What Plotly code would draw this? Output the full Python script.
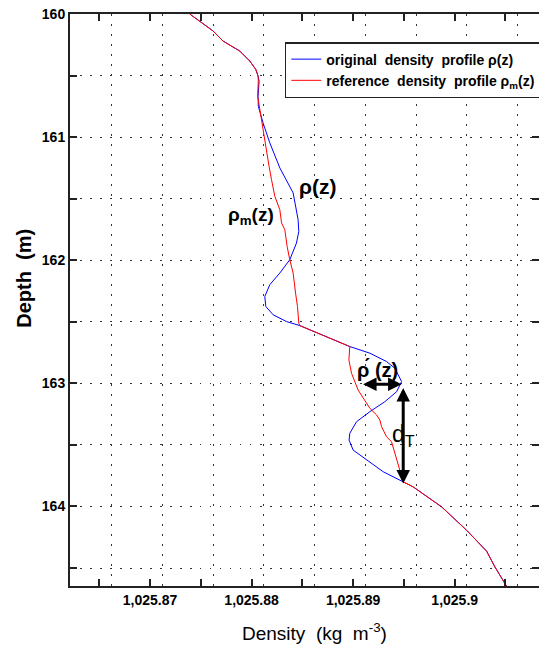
import plotly.graph_objects as go

# ---------------- data ----------------
# original density profile rho(z)
rho_depth = [160.0, 160.138, 160.220, 160.301, 160.382, 160.450, 160.504, 160.545, 160.667, 160.749,
             160.884, 161.046, 161.250, 161.453, 161.670, 161.766, 161.860, 161.996, 162.104, 162.199,
             162.295, 162.376, 162.443, 162.498, 162.531, 162.633, 162.701, 162.755, 162.823, 162.877,
             162.986, 163.068, 163.149, 163.230, 163.312, 163.406, 163.461, 163.542, 163.623, 163.718,
             163.800, 163.841, 164.003, 164.193, 164.363, 164.491, 164.648]
rho_dens = [1025.87391, 1025.87621, 1025.87719, 1025.87884, 1025.87982, 1025.88041, 1025.88064, 1025.88074,
            1025.88064, 1025.88066, 1025.88113, 1025.88179, 1025.88278, 1025.88409, 1025.88458, 1025.88465,
            1025.88442, 1025.88376, 1025.88278, 1025.88179, 1025.88130, 1025.88140, 1025.88212, 1025.88344,
            1025.88475, 1025.88770, 1025.88967, 1025.89165, 1025.89329, 1025.89411, 1025.89477, 1025.89428,
            1025.89312, 1025.89165, 1025.89033, 1025.88967, 1025.88960, 1025.89000, 1025.89132, 1025.89296,
            1025.89493, 1025.89591, 1025.89871, 1025.90117, 1025.90314, 1025.90396, 1025.90511]

# reference (sorted) density profile rho_m(z)
rhom_depth = [160.0, 160.138, 160.220, 160.301, 160.382, 160.450, 160.504, 160.545, 160.667, 160.775,
              160.965, 161.128, 161.237, 161.345, 161.481, 161.589, 161.697, 161.752, 161.888, 161.996,
              162.104, 162.267, 162.376, 162.511, 162.531, 162.633, 162.701, 162.810, 162.918, 163.054,
              163.203, 163.257, 163.298, 163.352, 163.434, 163.474, 163.569, 163.678, 163.772, 163.800,
              163.841, 164.003, 164.193, 164.363, 164.491, 164.648]
rhom_dens = [1025.87391, 1025.87621, 1025.87719, 1025.87884, 1025.87982, 1025.88041, 1025.88064, 1025.88066,
             1025.88060, 1025.88081, 1025.88113, 1025.88147, 1025.88172, 1025.88196, 1025.88229, 1025.88278,
             1025.88295, 1025.88327, 1025.88350, 1025.88376, 1025.88409, 1025.88433, 1025.88452, 1025.88465,
             1025.88475, 1025.88770, 1025.88967, 1025.88958, 1025.88984, 1025.89049, 1025.89165, 1025.89231,
             1025.89263, 1025.89280, 1025.89329, 1025.89378, 1025.89411, 1025.89443, 1025.89477, 1025.89493,
             1025.89591, 1025.89871, 1025.90117, 1025.90314, 1025.90396, 1025.90511]

x_tick_vals = [1025.865, 1025.87, 1025.875, 1025.88, 1025.885, 1025.89, 1025.895, 1025.90, 1025.905]
x_tick_text = ["", "1,025.87", "", "1,025.88", "", "1,025.89", "", "1,025.9", ""]
x_grid_vals = [1025.8662, 1025.8712, 1025.8762, 1025.8812, 1025.8862, 1025.8912, 1025.8962, 1025.9012, 1025.9062]
y_tick_vals = [160, 160.5, 161, 161.5, 162, 162.5, 163, 163.5, 164, 164.5]
y_tick_text = ["160", "", "161", "", "162", "", "163", "", "164", ""]

# annotation anchors (data coordinates)
label_rho = (1025.88652, 161.40)
label_rhom = (1025.87999, 161.644)
label_rhop = (1025.89243, 162.891)
label_dT = (1025.89500, 163.42)
arrow_rhop = (1025.89083, 1025.89477, 163.007)   # x0, x1, depth
arrow_dT = (1025.89493, 163.025, 163.813)        # x, depth0, depth1

FONT = "Liberation Sans, Arial, sans-serif"

fig = go.Figure()
fig.add_trace(go.Scatter(x=rho_dens, y=rho_depth, mode="lines",
                         line=dict(color="#0000ff", width=1),
                         name="<b>original\u00a0\u00a0density\u00a0\u00a0profile ρ(z)</b>"))
fig.add_trace(go.Scatter(x=rhom_dens, y=rhom_depth, mode="lines",
                         line=dict(color="#ff0000", width=1),
                         name="<b>reference\u00a0\u00a0density\u00a0\u00a0profile ρ<sub>m</sub>(z)</b>"))
# invisible trace to host the offset vertical grid axis
fig.add_trace(go.Scatter(x=[x_grid_vals[0]], y=[160], xaxis="x2", mode="markers",
                         marker=dict(opacity=0), showlegend=False, hoverinfo="skip"))

xr = [1025.86212, 1025.90830]
fig.update_layout(
    width=539, height=646,
    margin=dict(l=70, r=0, t=14, b=60, autoexpand=False),
    paper_bgcolor="white", plot_bgcolor="white",
    font=dict(family=FONT, color="black"),
    xaxis=dict(range=xr, tickvals=x_tick_vals, ticktext=x_tick_text, ticks="inside",
               ticklen=7, tickwidth=1.5, tickcolor="#222", showgrid=False, zeroline=False,
               showline=True, linecolor="#222", linewidth=2, mirror="ticks",
               tickfont=dict(size=14, family=FONT, weight="bold")),
    xaxis2=dict(range=xr, overlaying="x", side="bottom", tickvals=x_grid_vals,
                showticklabels=False, ticks="", showgrid=True, gridcolor="#333",
                griddash="1.5px,8.5px", gridwidth=1, zeroline=False, showline=False),
    yaxis=dict(range=[164.646, 160], tickvals=y_tick_vals, ticktext=y_tick_text, ticks="inside",
               ticklen=7, tickwidth=1.5, tickcolor="#222", showgrid=True, gridcolor="#333",
               griddash="1.5px,8.5px", gridwidth=1, zeroline=False,
               showline=True, linecolor="#222", linewidth=2, mirror="ticks",
               tickfont=dict(size=14, family=FONT, weight="bold")),
    legend=dict(x=0.458, y=0.951, xanchor="left", yanchor="top", bgcolor="white",
                bordercolor="#222", borderwidth=1.5, font=dict(size=14, family=FONT),
                tracegroupgap=0, itemwidth=30),
    showlegend=True,
)

ann = [
    dict(x=label_rho[0], y=label_rho[1], text="<b>ρ(z)</b>", font=dict(size=21)),
    dict(x=label_rhom[0], y=label_rhom[1], text="<b>ρ<sub>m</sub>(z)</b>", font=dict(size=19)),
    dict(x=label_rhop[0], y=label_rhop[1], text="<b>ρ\u0301 (z)</b>", font=dict(size=20)),
    dict(x=label_dT[0], y=label_dT[1], text="d<sub>T</sub>", font=dict(size=23)),
    dict(xref="paper", yref="paper", x=-0.097, y=0.538, text="<b>Depth\u00a0\u00a0(m)</b>",
         textangle=-90, font=dict(size=20)),
    dict(xref="paper", yref="paper", x=0.522, y=-0.081, text="Density\u00a0\u00a0(kg\u00a0\u00a0m<sup>-3</sup>)",
         font=dict(size=19)),
]
for a in ann:
    a.setdefault("xref", "x")
    a.setdefault("yref", "y")
    a["showarrow"] = False
    a["xanchor"] = "center"
    a["yanchor"] = "middle"
    fig.add_annotation(**a)

# double-headed arrows
fig.add_annotation(x=arrow_rhop[1], y=arrow_rhop[2], ax=arrow_rhop[0], ay=arrow_rhop[2],
                   xref="x", yref="y", axref="x", ayref="y", text="", showarrow=True,
                   arrowhead=2, arrowside="end+start", arrowsize=0.9, arrowwidth=3, arrowcolor="black")
fig.add_annotation(x=arrow_dT[0], y=arrow_dT[2], ax=arrow_dT[0], ay=arrow_dT[1],
                   xref="x", yref="y", axref="x", ayref="y", text="", showarrow=True,
                   arrowhead=2, arrowside="end+start", arrowsize=0.9, arrowwidth=3, arrowcolor="black")

fig.write_html("out.html")
